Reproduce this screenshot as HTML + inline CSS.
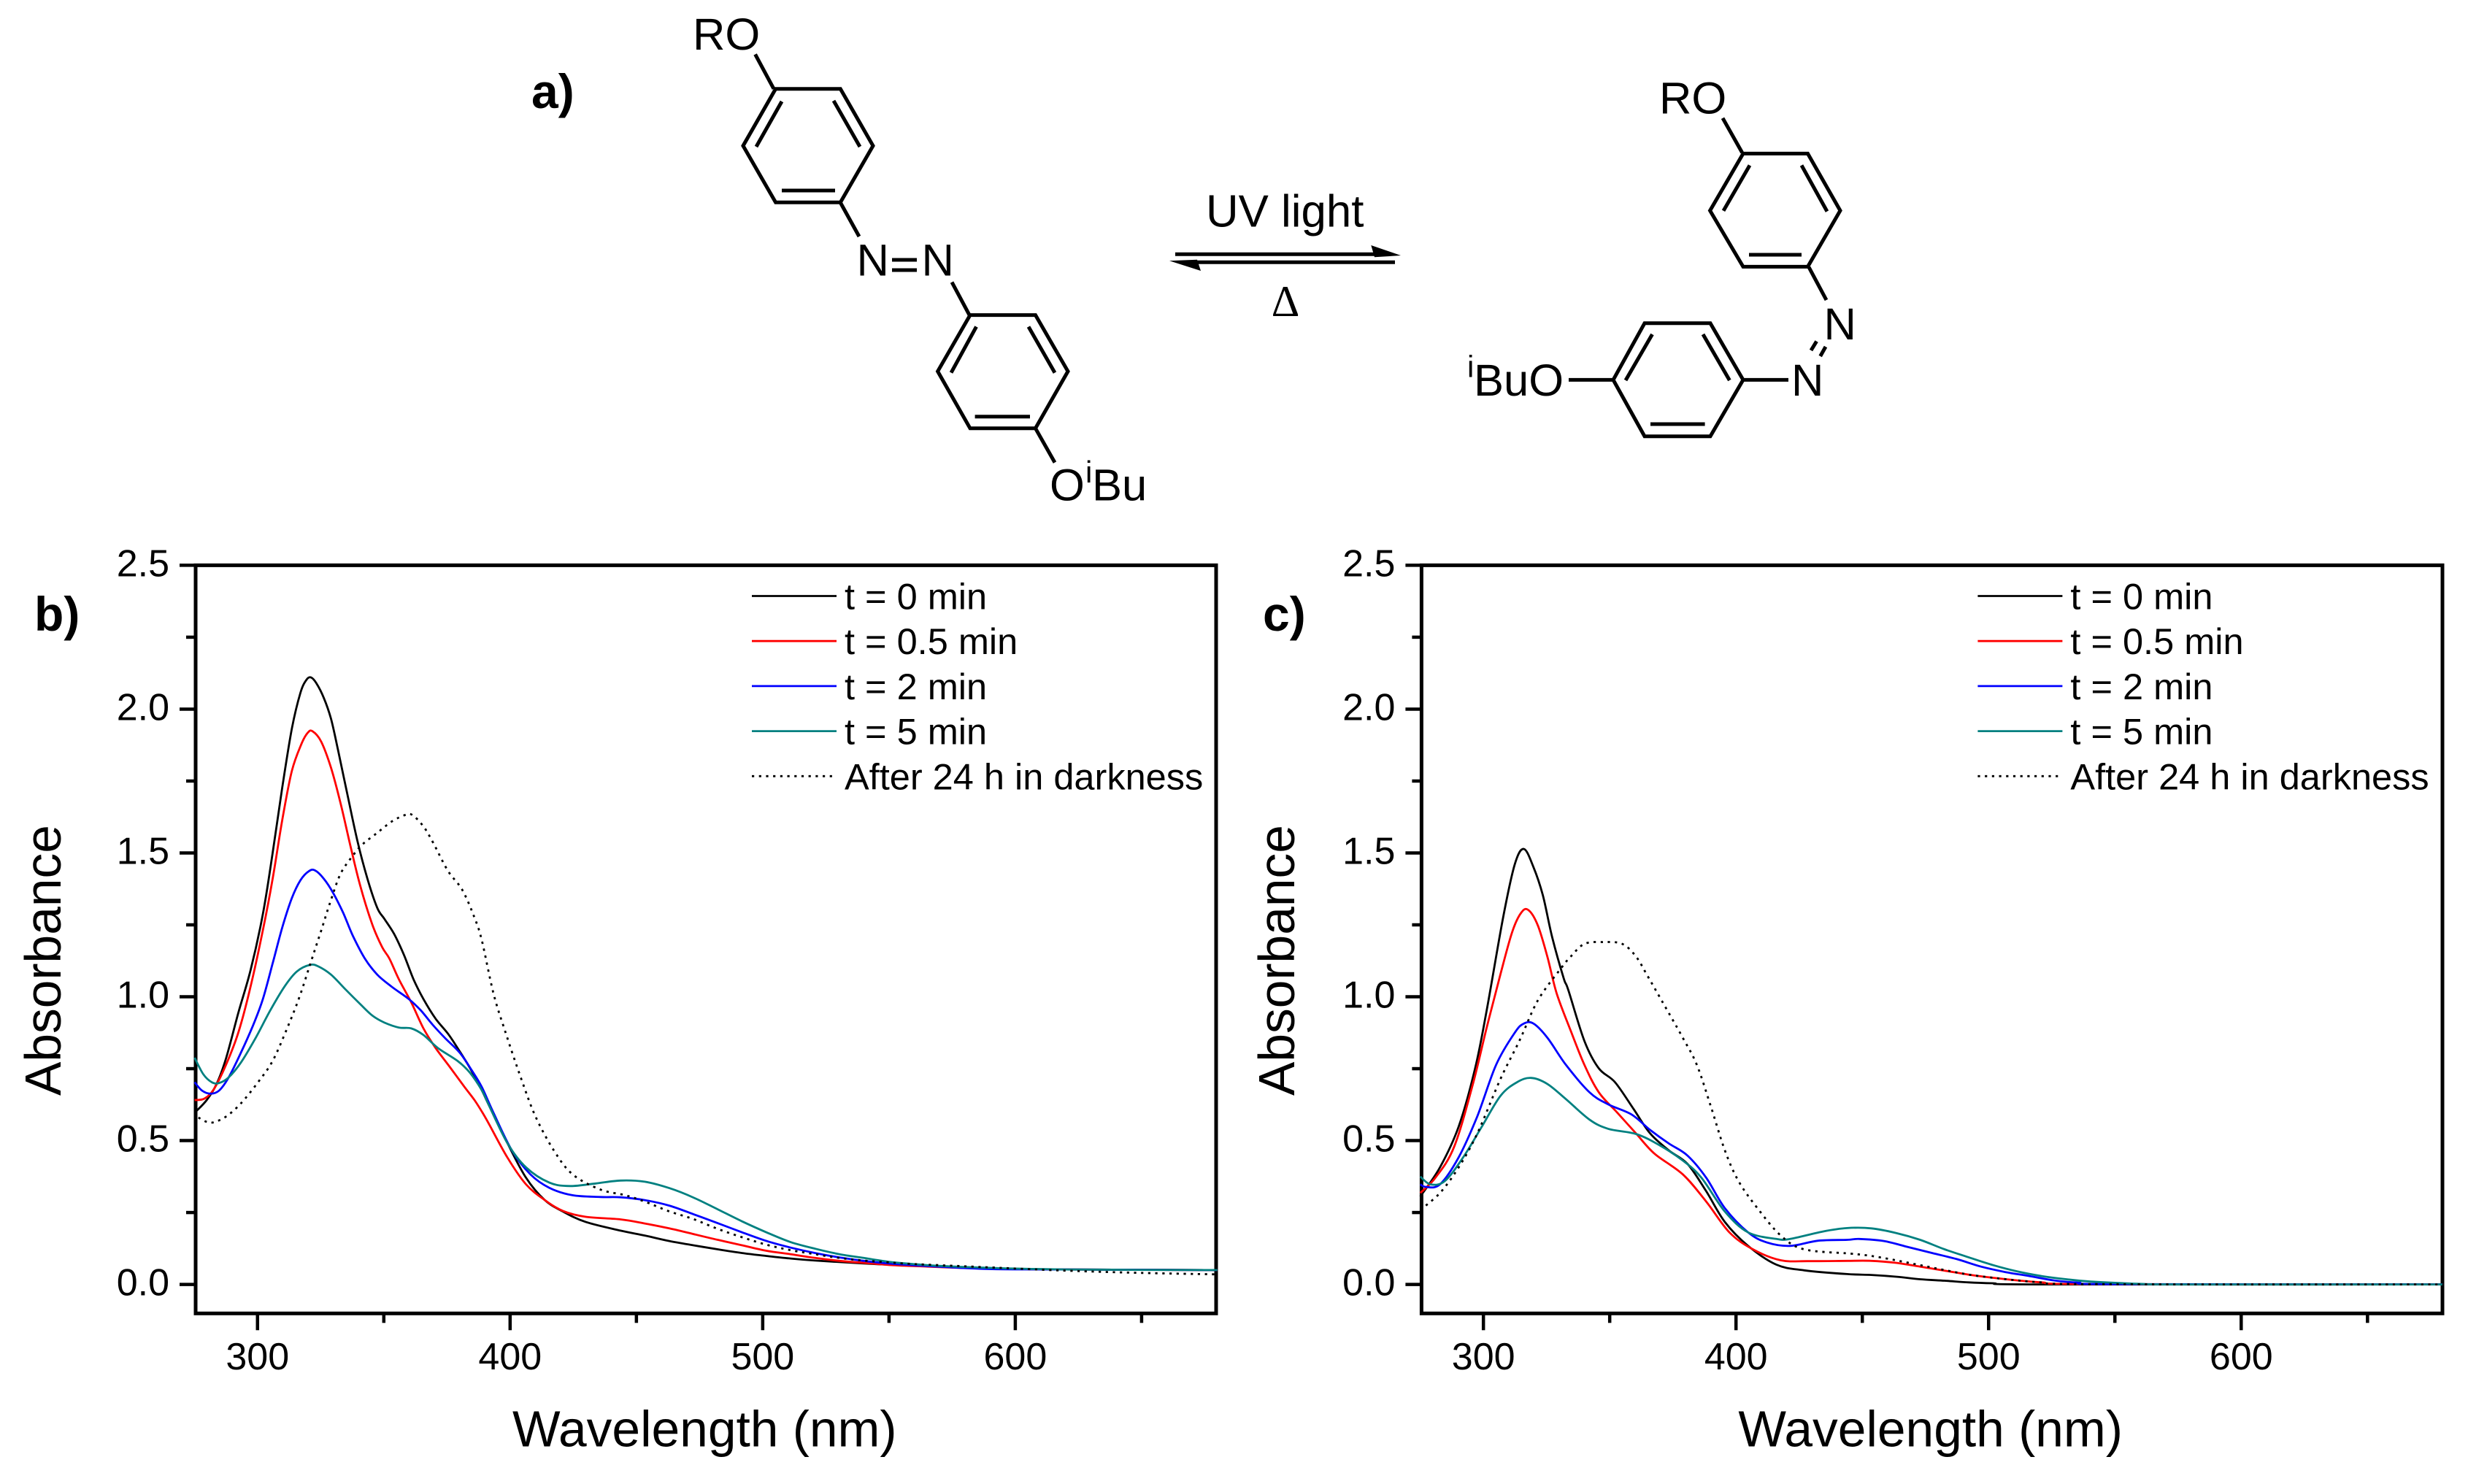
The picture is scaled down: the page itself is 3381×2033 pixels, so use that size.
<!DOCTYPE html>
<html lang="en">
<head>
<meta charset="utf-8">
<title>Azobenzene photoisomerisation UV-vis spectra</title>
<style>
html,body{margin:0;padding:0;background:#fff;width:3381px;height:2033px;overflow:hidden}
svg{display:block;font-family:"Liberation Sans",sans-serif}
</style>
</head>
<body>
<svg id="figure" xmlns="http://www.w3.org/2000/svg" width="3381" height="2033" viewBox="0 0 3381 2033">
<rect width="3381" height="2033" fill="#fff"/>
<g>
<text x="728" y="148" font-size="66" font-weight="700">a)</text>
<g fill="none" stroke="#000" stroke-width="5">
<polygon points="1062.6,121.7 1151.3,121.7 1196,199.7 1151.3,277.3 1062.6,277.3 1018,199.7"/>
<path d="M1071,139L1036,201M1142,138L1178,201M1071,261H1144"/>
<path d="M1034.6,74.4L1060,121.7M1151,277L1177,324M1222,356H1256M1222,370H1256M1304,386.6L1328,431.6M1418.5,586.8L1445,633.6"/>
<polygon points="1329,431.6 1418.5,431.6 1463,508.7 1418.5,586.8 1329,586.8 1284.6,508.7"/>
<path d="M1337.5,447.6L1303,510.6M1409,447.6L1445,510.6M1335.6,570.7H1411"/>
</g>
<text x="949" y="68" font-size="61.5">RO</text>
<text x="1173.5" y="377.4" font-size="61.5">N</text>
<text x="1262.5" y="377.4" font-size="61.5">N</text>
<text x="1438" y="685.5" font-size="61.5">O</text>
<text x="1487" y="661" font-size="42">i</text>
<text x="1496" y="685.5" font-size="61.5">Bu</text>
<g>
<path d="M1610,348.3H1885" stroke="#000" stroke-width="5" fill="none"/>
<polygon points="1919,350 1878.3,336 1883,352.3" fill="#000"/>
<path d="M1640,359.3H1911" stroke="#000" stroke-width="5" fill="none"/>
<polygon points="1602,357.3 1640,355.7 1645,371" fill="#000"/>
</g>
<text x="1652" y="310.7" font-size="61.8">UV light</text>
<text x="1761" y="433" font-size="60" text-anchor="middle" font-family="'Liberation Serif',serif">Δ</text>
<g fill="none" stroke="#000" stroke-width="5">
<polygon points="2388,210.4 2476.5,210.4 2521,288.5 2476.5,365.4 2388,365.4 2342.6,288.5"/>
<path d="M2397,226.5L2361,288.8M2468,226.5L2503,289.6M2396,349H2468"/>
<path d="M2360,161.8L2386.6,209M2478,366L2502,411M2488.6,467.6L2481,480M2501,475L2493.7,488M2388,520.4H2450M2149,520.4H2210"/>
<polygon points="2210,520.4 2253,442.7 2343,442.7 2388,520.4 2343,597.7 2253,597.7"/>
<path d="M2263.5,458L2227,521M2333,458L2369.4,521M2261,581H2335.6"/>
</g>
<text x="2273" y="155.7" font-size="61.5">RO</text>
<text x="2498.5" y="465" font-size="61.5">N</text>
<text x="2454" y="542" font-size="61.5">N</text>
<text x="2010" y="516.6" font-size="42">i</text>
<text x="2019" y="542" font-size="61.5">BuO</text>
</g>
<g id="panel-b"></g>
<g id="panel-c"></g>
</svg>
<script>
const xMajorTicks = [300, 400, 500, 600];
const xMinorTicks = [350, 450, 550, 650];
const yMajorTicks = ["0.0", "0.5", "1.0", "1.5", "2.0", "2.5"];
const yMinorTicks = [0.25, 0.75, 1.25, 1.75, 2.25];
const legendLabels = ["t = 0 min", "t = 0.5 min", "t = 2 min", "t = 5 min", "After 24 h in darkness"];
const seriesColors = ["#000000", "#ff0000", "#0000ff", "#008080", "#000000"];

const b0Wavelength = [275.6,279.9,283.8,287.6,292.5,297.3,302.1,306,309.8,313.6,317,319.4,321.2,323.3,326.2,329.1,332,335.8,339.7,343.5,347.4,350.3,354.1,358,361.8,365.7,370.5,375.3,379.2,384,388.8,391.5,399,406.3,413.6,421,430,443.7,453.3,463,472.6,482.2,491.9,501.5,511.1,520.8,540,559.3,588,620,680];
const b0Absorbance = [0.601,0.641,0.697,0.788,0.947,1.094,1.286,1.5,1.728,1.932,2.057,2.102,2.11,2.09,2.04,1.966,1.853,1.694,1.536,1.411,1.309,1.27,1.218,1.145,1.06,0.992,0.924,0.873,0.822,0.754,0.675,0.625,0.49,0.371,0.294,0.253,0.217,0.187,0.17,0.151,0.136,0.122,0.109,0.099,0.09,0.083,0.073,0.065,0.056,0.052,0.05];
const b1Wavelength = [275.1,279,282.8,287.6,292.5,297.3,302.1,306,309.8,313.6,317.5,319.9,321.8,325.2,329.1,332.9,336.8,340.6,345.4,349.3,352.2,356,360.9,365.7,370.5,376.3,382,385.9,388.8,391.5,399,406.3,413.6,421,430,443.7,453.3,463,472.6,482.2,491.9,501.5,511.1,520.8,530.4,540,549.7,559.3,588,620,680];
const b1Absorbance = [0.641,0.646,0.68,0.765,0.878,1.037,1.23,1.41,1.615,1.785,1.881,1.918,1.923,1.887,1.796,1.672,1.524,1.388,1.252,1.173,1.133,1.06,0.98,0.89,0.822,0.754,0.686,0.641,0.601,0.56,0.44,0.348,0.294,0.255,0.235,0.226,0.212,0.195,0.175,0.155,0.136,0.117,0.105,0.092,0.082,0.075,0.068,0.064,0.055,0.052,0.05];
const b2Wavelength = [275.1,278,281.4,284.8,288.6,293.4,298.2,302.1,306,309.8,313.6,317,320.4,322.8,326.2,330,333.9,337.7,342.5,347.4,353.1,359.9,364.7,369.5,374.3,380.1,384.9,388.8,393.4,400.7,408,415.5,424.7,435.7,443.7,453.3,463,472.6,482.2,491.9,501.5,511.1,520.8,530.4,540,549.7,559.3,588,620,680];
const b2Absorbance = [0.703,0.674,0.663,0.674,0.72,0.805,0.9,0.991,1.116,1.241,1.343,1.405,1.437,1.439,1.411,1.36,1.292,1.213,1.133,1.077,1.035,0.992,0.952,0.901,0.856,0.805,0.743,0.686,0.597,0.466,0.383,0.336,0.31,0.304,0.303,0.293,0.274,0.244,0.213,0.181,0.151,0.128,0.109,0.094,0.082,0.073,0.067,0.054,0.052,0.05];
const b3Wavelength = [275.1,278.5,281.9,284.8,288.6,293.4,299.2,305,310.8,315.6,320.9,324.2,329.1,334.8,340.6,345.4,350.3,356,360.9,365.7,371.4,379.2,384,388.8,391.5,399,406.3,415.5,423.8,433.9,443.7,453.3,463,472.6,482.2,491.9,501.5,511.1,520.8,530.4,540,549.7,559.3,569,588,620,680];
const b3Absorbance = [0.788,0.731,0.703,0.7,0.72,0.771,0.856,0.952,1.037,1.088,1.111,1.105,1.077,1.026,0.975,0.935,0.91,0.893,0.89,0.867,0.822,0.777,0.737,0.675,0.625,0.49,0.407,0.354,0.342,0.351,0.361,0.357,0.335,0.302,0.261,0.219,0.181,0.147,0.124,0.105,0.092,0.079,0.071,0.065,0.058,0.052,0.05];
const b4Wavelength = [276.6,279.9,282.8,287.6,293.4,300.2,306,311.7,316.5,321.4,325.2,329.1,332.9,337.7,341.6,347.4,353.1,358.4,361.3,365.7,369.5,375.3,381.1,385.9,388.8,393.4,398,404.4,410,417.3,424.7,435.7,445.6,453.3,463,472.6,482.2,491.9,501.5,511.1,520.8,530.4,540,549.7,559.3,588,620,650,680];
const b4Absorbance = [0.58,0.565,0.564,0.584,0.629,0.703,0.777,0.89,0.997,1.128,1.23,1.337,1.428,1.49,1.53,1.57,1.609,1.632,1.632,1.592,1.536,1.439,1.371,1.275,1.196,1.012,0.881,0.715,0.585,0.466,0.383,0.33,0.31,0.288,0.254,0.227,0.193,0.164,0.138,0.119,0.105,0.092,0.083,0.077,0.071,0.06,0.048,0.04,0.035];

const c0Wavelength = [275,282.8,290.2,296.7,301.3,307.8,312.4,316,319.8,323.5,327.2,331.8,333.6,340,345.7,352.1,359.5,366,373.4,380.8,388.2,395.6,404.8,415.9,427,444,453.6,463.3,472.9,482.6,492.2,501.8,521.1,680];
const c0Absorbance = [0.306,0.407,0.549,0.751,0.953,1.276,1.46,1.514,1.451,1.354,1.208,1.064,1.024,0.846,0.751,0.703,0.609,0.525,0.466,0.419,0.324,0.217,0.134,0.069,0.049,0.036,0.033,0.027,0.018,0.013,0.007,0.004,0,0];
const c1Wavelength = [275,281,288.4,295.7,301.3,306.8,311.5,315.2,318,321.6,325.3,329,334.6,340,345.7,353,360.4,367.8,378.9,388.2,397.4,406.7,417.7,428.8,444,453.6,463.3,472.9,482.6,492.2,501.8,511.5,521.1,540.4,680];
const c1Absorbance = [0.318,0.371,0.478,0.692,0.893,1.08,1.228,1.295,1.3,1.247,1.14,1.012,0.881,0.763,0.668,0.597,0.525,0.454,0.383,0.288,0.181,0.122,0.084,0.081,0.082,0.082,0.075,0.062,0.048,0.034,0.023,0.014,0.007,0.001,0];
const c2Wavelength = [275,277.3,282.8,290.2,297.6,305,312.4,316,319.8,325.3,332.7,342,349.4,358.6,366,373.4,380.8,388.2,395.6,404.8,412.2,421.4,432.5,444,448.8,458.5,468.1,477.7,487.4,497,506.7,516.3,525.9,535.6,550,680];
const c2Absorbance = [0.348,0.339,0.348,0.442,0.585,0.763,0.875,0.907,0.907,0.858,0.763,0.668,0.626,0.591,0.537,0.49,0.448,0.371,0.265,0.181,0.146,0.134,0.152,0.155,0.158,0.151,0.13,0.109,0.088,0.062,0.043,0.029,0.014,0.006,0.001,0];
const c3Wavelength = [275,279,284.7,292,299.4,306.8,313.3,318.9,325.3,332.7,342,349.4,360.4,369.7,378.9,386.3,395.6,404.8,416,421.4,434.4,444,453.6,463.3,472.9,482.6,492.2,501.8,511.5,521.1,530.8,540.4,559.7,577,680];
const c3Absorbance = [0.375,0.348,0.359,0.442,0.549,0.656,0.703,0.718,0.697,0.644,0.573,0.541,0.523,0.484,0.431,0.371,0.253,0.181,0.158,0.158,0.184,0.196,0.195,0.179,0.155,0.122,0.094,0.067,0.045,0.029,0.018,0.01,0.002,0,0];
const c4Wavelength = [275,282.8,290.2,297.6,306.8,314.2,321.6,330.9,334.6,340,347.5,354.9,360.4,365,369.7,378.9,384.5,390,395.6,401,408.5,417.7,427,445.4,453.6,463.3,472.9,482.6,492.2,501.8,511.5,521.1,540.4,680];
const c4Absorbance = [0.259,0.318,0.407,0.525,0.715,0.846,0.988,1.101,1.14,1.184,1.19,1.184,1.14,1.072,1.0,0.858,0.763,0.62,0.466,0.359,0.265,0.17,0.122,0.107,0.099,0.084,0.067,0.05,0.034,0.023,0.014,0.007,0.001,0];

const panelBSeries = [[b0Wavelength,b0Absorbance],[b1Wavelength,b1Absorbance],[b2Wavelength,b2Absorbance],[b3Wavelength,b3Absorbance],[b4Wavelength,b4Absorbance]];
const panelCSeries = [[c0Wavelength,c0Absorbance],[c1Wavelength,c1Absorbance],[c2Wavelength,c2Absorbance],[c3Wavelength,c3Absorbance],[c4Wavelength,c4Absorbance]];

const NS = "http://www.w3.org/2000/svg";
const xMin = 275.5, pxPerNm = 3.4604, yTop = 774.4, yZero = 1759.6, yBottom = 1799.3;
function yScale(v){ return yZero - (v / 2.5) * (yZero - yTop); }
function node(parent, tag, attrs, text){
  const el = document.createElementNS(NS, tag);
  for (const k in attrs) el.setAttribute(k, attrs[k]);
  if (text !== undefined) el.textContent = text;
  parent.appendChild(el);
  return el;
}
function smoothPath(px, py){
  let d = "M" + px[0].toFixed(1) + "," + py[0].toFixed(1);
  for (let i = 0; i < px.length - 1; i++){
    const a = Math.max(i - 1, 0), b = Math.min(i + 2, px.length - 1);
    const c1x = px[i] + (px[i+1] - px[a]) / 6, c1y = py[i] + (py[i+1] - py[a]) / 6;
    const c2x = px[i+1] - (px[b] - px[i]) / 6, c2y = py[i+1] - (py[b] - py[i]) / 6;
    d += "C" + c1x.toFixed(1) + "," + c1y.toFixed(1) + " " + c2x.toFixed(1) + "," + c2y.toFixed(1) + " " + px[i+1].toFixed(1) + "," + py[i+1].toFixed(1);
  }
  return d;
}
function drawPanel(group, left, right, series, label, labelX, yTitleX){
  function xScale(v){ return left + (v - xMin) * pxPerNm; }
  const frame = node(group, "rect", {x:left, y:yTop, width:right-left, height:yBottom-yTop, fill:"none", stroke:"#000", "stroke-width":5});
  
  
  xMajorTicks.forEach(function(v){
    const t = node(group, "line", {x1:xScale(v), x2:xScale(v), y1:yBottom, y2:yBottom+23, stroke:"#000", "stroke-width":4.5});
    
    
    const l = node(group, "text", {x:xScale(v), y:1876, "font-size":52, "text-anchor":"middle"}, String(v));
    
    
  });
  xMinorTicks.forEach(function(v){
    const t = node(group, "line", {x1:xScale(v), x2:xScale(v), y1:yBottom, y2:yBottom+13, stroke:"#000", "stroke-width":4.5});
    
    
  });
  yMajorTicks.forEach(function(s){
    const v = parseFloat(s);
    const t = node(group, "line", {x1:left-22, x2:left, y1:yScale(v), y2:yScale(v), stroke:"#000", "stroke-width":4.5});
    
    
    const l = node(group, "text", {x:left-36, y:yScale(v)+15, "font-size":52, "text-anchor":"end"}, s);
    
    
  });
  yMinorTicks.forEach(function(v){
    const t = node(group, "line", {x1:left-13, x2:left, y1:yScale(v), y2:yScale(v), stroke:"#000", "stroke-width":4.5});
    
    
  });
  series.forEach(function(s, i){
    const px = s[0].map(xScale), py = s[1].map(yScale);
    const attrs = {d:smoothPath(px, py), fill:"none", stroke:seriesColors[i], "stroke-width": 2.8};
    if (i === 4) attrs["stroke-dasharray"] = "3.2 6.5";
    const p = node(group, "path", attrs);
    
    
  });
  legendLabels.forEach(function(text, i){
    const y = 816.5 + i * 61.7;
    const attrs = {x1:left+762, x2:left+878, y1:y, y2:y, stroke:seriesColors[i], "stroke-width": 2.8};
    if (i === 4) attrs["stroke-dasharray"] = "3.2 6.5";
    const sw = node(group, "line", attrs);
    
    
    const t = node(group, "text", {x:left+889, y:y+18, "font-size":50.5}, text);
    
    
  });
  const xTitle = node(group, "text", {x:left+434, y:1981.6, "font-size":69.5}, "Wavelength (nm)");
  
  
  const yy = 1501;
  const yTitle = node(group, "text", {x:yTitleX, y:yy, "font-size":69.5, transform:"rotate(-90 " + yTitleX + " " + yy + ")"}, "Absorbance");
  
  
  const pl = node(group, "text", {x:labelX, y:864, "font-size":66, "font-weight":700}, label);
  
  
}
drawPanel(document.getElementById("panel-b"), 268, 1666, panelBSeries, "b)", 47, 83);
drawPanel(document.getElementById("panel-c"), 1947.4, 3346, panelCSeries, "c)", 1730, 1773);
</script>
</body>
</html>
